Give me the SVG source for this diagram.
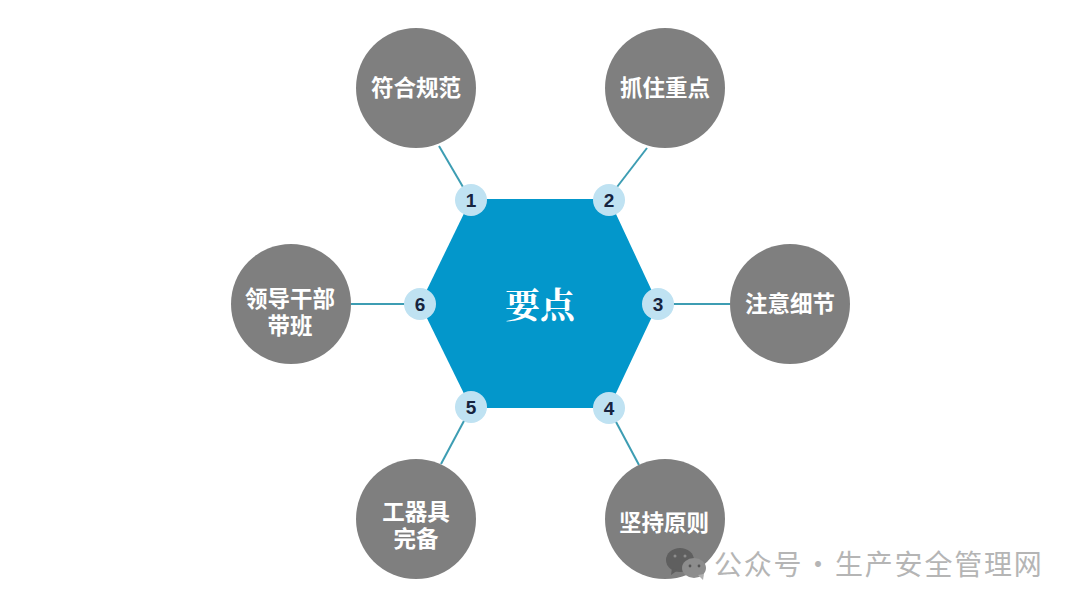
<svg xmlns="http://www.w3.org/2000/svg" width="1080" height="608" viewBox="0 0 1080 608">
<style>
.c{stroke:#3d9db3;stroke-width:2;fill:none}
.o{fill:#7f7f7f}
.b{fill:#bfe2f2}
.t{font-family:"Noto Sans CJK SC","Liberation Sans",sans-serif;font-weight:700;font-size:22.5px;fill:#fff;text-anchor:middle}
.n{font-family:"Liberation Sans",Arial,sans-serif;font-weight:700;font-size:19px;fill:#16243f;text-anchor:middle}
.w{font-family:"Noto Sans CJK SC",sans-serif;font-size:28px;fill:#b5b5b5;letter-spacing:1.8px}
</style>
<rect width="1080" height="608" fill="#fff"/>
<g id="connectors">
<line class="c" x1="439" y1="146" x2="463" y2="187"/>
<line class="c" x1="647" y1="148" x2="617" y2="187"/>
<line class="c" x1="670" y1="304" x2="730" y2="304"/>
<line class="c" x1="615" y1="420" x2="639" y2="465"/>
<line class="c" x1="465" y1="419" x2="441" y2="464"/>
<line class="c" x1="351" y1="304" x2="408" y2="304"/>
</g>
<g id="hub"><polygon points="471,199 609,199 658,304 609,408 471,408 420,304" fill="#0397cb"/>
<text x="540" y="318" text-anchor="middle" font-family="'Noto Serif CJK SC','Noto Sans CJK SC',serif" font-weight="700" font-size="35" fill="#fff">要点</text></g>
<g id="node1"><circle class="o" cx="416" cy="88" r="60"/><text class="t" x="416" y="96">符合规范</text></g>
<g id="node2"><circle class="o" cx="665" cy="88" r="60"/><text class="t" x="665" y="96">抓住重点</text></g>
<g id="node3"><circle class="o" cx="790" cy="304" r="60"/><text class="t" x="790" y="312">注意细节</text></g>
<g id="node4"><circle class="o" cx="665" cy="519" r="60"/><text class="t" x="664" y="531">坚持原则</text></g>
<g id="node5"><circle class="o" cx="416" cy="519" r="60"/><text class="t" x="416" y="520"><tspan x="416">工器具</tspan><tspan x="416" dy="27">完备</tspan></text></g>
<g id="node6"><circle class="o" cx="291" cy="304" r="60"/><text class="t" x="290" y="307"><tspan x="290">领导干部</tspan><tspan x="290" dy="27">带班</tspan></text></g>
<g id="badge1"><circle class="b" cx="471" cy="200" r="16"/><text class="n" x="471" y="207">1</text></g>
<g id="badge2"><circle class="b" cx="609" cy="200" r="16"/><text class="n" x="609" y="207">2</text></g>
<g id="badge3"><circle class="b" cx="658" cy="304" r="16"/><text class="n" x="658" y="311">3</text></g>
<g id="badge4"><circle class="b" cx="609" cy="408" r="16"/><text class="n" x="609" y="415">4</text></g>
<g id="badge5"><circle class="b" cx="471" cy="407" r="16"/><text class="n" x="471" y="414">5</text></g>
<g id="badge6"><circle class="b" cx="420" cy="304" r="16"/><text class="n" x="420" y="311">6</text></g>
<g id="watermark">
<ellipse cx="680" cy="560" rx="14" ry="12" fill="#5f5f5f"/><polygon points="672,568 678,570 671,575" fill="#5f5f5f"/>
<ellipse cx="694" cy="568" rx="12" ry="10" fill="#8d8d8d"/><polygon points="698,575 704,574 703,580" fill="#b0b0b0"/>
<circle cx="675" cy="556" r="1.5" fill="#8d8d8d"/><circle cx="685" cy="556" r="1.5" fill="#8d8d8d"/>
<circle cx="690" cy="566" r="1.4" fill="#555"/><circle cx="699" cy="566" r="1.4" fill="#555"/>
<text class="w" y="575"><tspan x="714">公众号</tspan><tspan x="804">·</tspan><tspan x="835">生产安全管理网</tspan></text>
</g>
</svg>
